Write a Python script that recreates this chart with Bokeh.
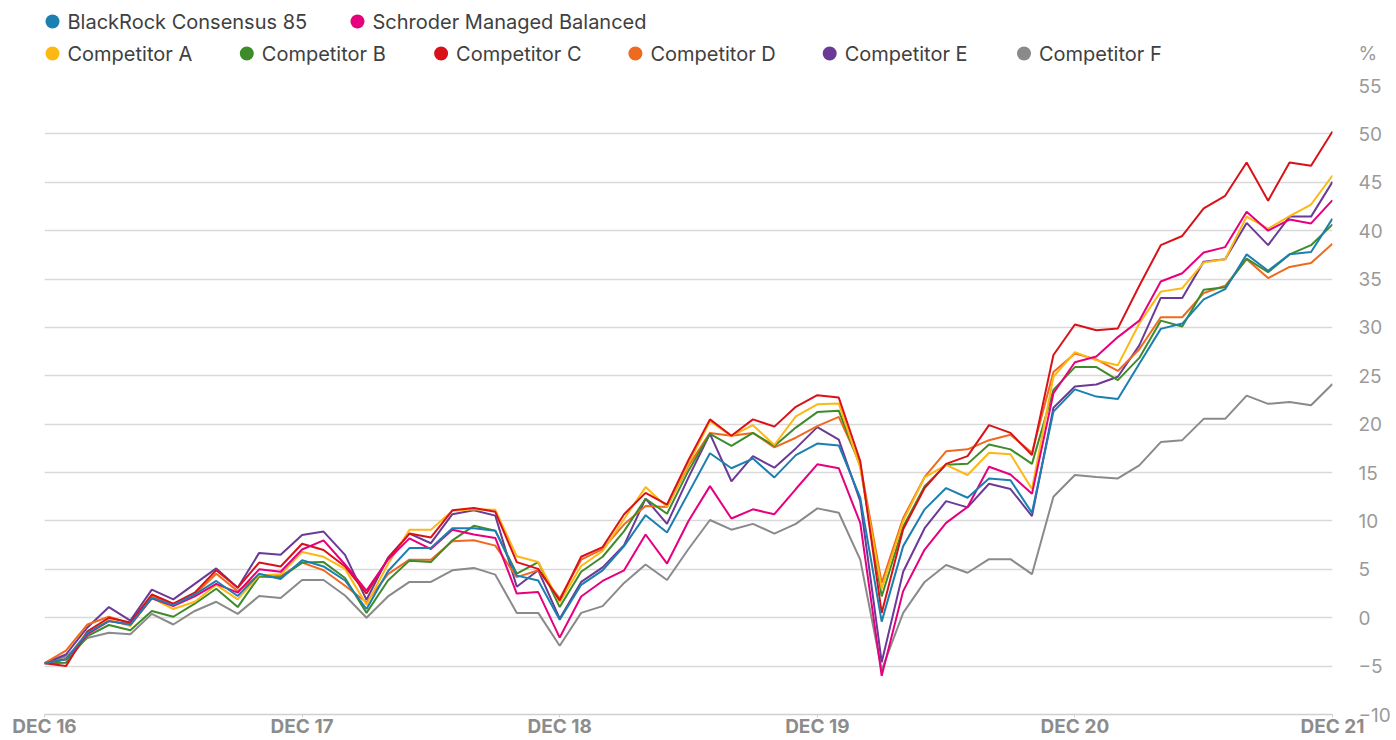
from bokeh.plotting import figure
from bokeh.layouts import column
from bokeh.models import Range1d, FixedTicker, ColumnDataSource
from bokeh.embed import file_html
from bokeh.resources import INLINE
from bokeh.core.properties import value

# ---------------- data ----------------
months = list(range(61))  # Dec 2016 .. Dec 2021, monthly
tick_months = [0, 12, 24, 36, 48, 60]
tick_labels = ["DEC 16", "DEC 17", "DEC 18", "DEC 19", "DEC 20", "DEC 21"]
y_ticks = list(range(-10, 56, 5))
unit_label = "%"

names = ["BlackRock Consensus 85", "Schroder Managed Balanced",
         "Competitor A", "Competitor B", "Competitor C",
         "Competitor D", "Competitor E", "Competitor F"]
colors = ["#1b7fb1", "#e6007e", "#fdb813", "#3e8b2a", "#d91219",
          "#ef6a1e", "#6b3a96", "#8a8a8a"]

blackrock = [-4.7, -4.3, -1.55, -0.35, -0.7, 2.05, 1.3, 2.4, 3.8, 2.25, 4.55, 4.0,
             5.95, 5.3, 3.85, 0.9, 4.8, 7.2, 7.2, 9.25, 9.25, 9.0, 4.35, 3.85,
             -0.2, 3.4, 4.9, 7.4, 10.6, 8.8, 12.9, 17.0, 15.45, 16.45, 14.5, 16.8,
             18.0, 17.8, 12.4, -0.4, 7.4, 11.2, 13.4, 12.4, 14.4, 14.2, 10.85, 21.3,
             23.6, 22.85, 22.6, 26.25, 29.85, 30.4, 32.9, 33.95, 37.55, 35.85, 37.55, 37.8,
             41.25]
schroder = [-4.7, -4.3, -1.7, -0.35, -0.7, 2.0, 1.2, 2.2, 3.5, 2.6, 5.0, 4.75,
            7.05, 8.0, 5.5, 2.8, 6.0, 8.2, 7.1, 9.1, 8.6, 8.25, 2.5, 2.65,
            -2.05, 2.2, 3.8, 4.9, 8.6, 5.6, 10.0, 13.6, 10.25, 11.2, 10.7, 13.3,
            15.85, 15.45, 9.8, -6.0, 2.75, 7.05, 9.8, 11.45, 15.6, 14.8, 12.8, 23.2,
            26.4, 27.0, 29.0, 30.7, 34.75, 35.6, 37.75, 38.3, 41.95, 40.0, 41.15, 40.75,
            43.15]
comp_a = [-4.7, -4.3, -1.4, -0.2, -0.85, 2.05, 0.9, 1.65, 3.4, 1.9, 4.4, 4.5,
          6.8, 6.3, 5.05, 1.35, 5.55, 9.1, 9.1, 11.05, 11.2, 11.15, 6.35, 5.75,
          1.6, 5.35, 6.9, 10.2, 13.5, 11.45, 15.9, 20.3, 18.8, 19.9, 17.85, 20.8,
          22.05, 22.15, 15.5, 3.0, 10.0, 14.5, 15.8, 14.75, 17.05, 16.9, 13.3, 24.9,
          27.45, 26.6, 26.1, 30.4, 33.7, 34.05, 36.7, 37.05, 41.45, 40.2, 41.5, 42.7,
          45.7]
comp_b = [-4.7, -4.65, -1.9, -0.75, -1.3, 0.7, 0.1, 1.45, 3.0, 1.1, 4.25, 4.15,
          5.7, 5.75, 4.1, 0.5, 3.85, 5.9, 5.75, 8.0, 9.5, 9.0, 4.55, 5.75,
          1.1, 4.75, 6.3, 8.95, 12.3, 10.75, 15.2, 19.0, 17.75, 19.1, 17.75, 19.65,
          21.25, 21.4, 15.7, 2.2, 9.4, 13.6, 15.8, 15.9, 17.9, 17.4, 15.9, 23.55,
          25.9, 25.9, 24.55, 26.85, 30.7, 30.1, 33.9, 34.15, 37.1, 35.7, 37.55, 38.5,
          40.65]
comp_c = [-4.7, -5.0, -1.4, 0.0, -0.5, 2.4, 1.45, 2.6, 4.9, 3.1, 5.7, 5.3,
          7.65, 7.0, 5.3, 2.5, 6.1, 8.7, 8.3, 11.1, 11.35, 10.95, 5.75, 5.05,
          1.8, 6.3, 7.3, 10.7, 12.9, 11.7, 16.3, 20.5, 18.8, 20.5, 19.75, 21.8,
          23.0, 22.75, 16.2, 0.5, 9.15, 13.4, 15.9, 16.7, 19.9, 19.1, 16.8, 27.15,
          30.3, 29.7, 29.9, 34.3, 38.5, 39.45, 42.3, 43.6, 47.05, 43.1, 47.05, 46.7,
          50.25]
comp_d = [-4.7, -3.4, -0.7, 0.1, -0.6, 2.2, 1.4, 2.4, 4.55, 2.75, 4.4, 4.3,
          5.7, 4.9, 3.3, 1.6, 4.5, 6.0, 6.0, 7.9, 8.0, 7.45, 4.2, 4.9,
          2.0, 6.0, 7.1, 9.65, 11.55, 11.45, 15.7, 19.1, 18.8, 19.1, 17.6, 18.6,
          19.8, 20.75, 15.9, 3.6, 10.3, 14.55, 17.2, 17.4, 18.35, 18.9, 17.05, 25.4,
          27.3, 26.7, 25.5, 27.75, 31.05, 31.05, 33.55, 34.3, 37.05, 35.1, 36.25, 36.65,
          38.65]
comp_e = [-4.7, -3.8, -1.0, 1.1, -0.3, 2.9, 1.9, 3.5, 5.1, 3.1, 6.7, 6.5,
          8.55, 8.9, 6.5, 1.85, 6.2, 8.7, 7.7, 10.7, 11.1, 10.55, 3.2, 4.9,
          -0.1, 3.7, 5.2, 7.5, 12.3, 9.7, 14.5, 19.0, 14.1, 16.7, 15.5, 17.5,
          19.7, 18.4, 12.05, -4.6, 4.75, 9.25, 12.05, 11.4, 13.85, 13.3, 10.5, 21.7,
          23.9, 24.1, 24.9, 28.15, 33.05, 33.05, 36.8, 37.05, 40.8, 38.5, 41.45, 41.45,
          45.05]
comp_f = [-4.7, -4.0, -2.1, -1.55, -1.7, 0.4, -0.7, 0.7, 1.65, 0.4, 2.25, 2.05,
          3.9, 3.9, 2.3, 0.0, 2.2, 3.7, 3.7, 4.9, 5.15, 4.45, 0.5, 0.5,
          -2.9, 0.5, 1.2, 3.6, 5.5, 3.9, 7.1, 10.1, 9.1, 9.7, 8.7, 9.7,
          11.3, 10.85, 6.0, -5.4, 0.5, 3.7, 5.45, 4.65, 6.05, 6.05, 4.5, 12.5,
          14.75, 14.55, 14.4, 15.75, 18.15, 18.35, 20.55, 20.55, 22.95, 22.1, 22.3, 21.95,
          24.15]

series = [blackrock, schroder, comp_a, comp_b, comp_c, comp_d, comp_e, comp_f]

# ---------------- layout ----------------
W = 1396
H = 740
FONT = "Inter"
LEFT, RIGHT = 44, 64          # frame spans 44 .. 1332
FRAME_W = W - LEFT - RIGHT
LEG_H = 66
FRAME_TOP = 85
GREY_TXT = "#9a9a9a"


def style_right_axis(ax):
    ax.axis_line_color = None
    ax.major_tick_line_color = None
    ax.minor_tick_line_color = None
    ax.major_label_standoff = 20
    ax.major_label_text_font = FONT
    ax.major_label_text_font_size = "19px"
    ax.major_label_text_color = GREY_TXT


# legend strip; its frame aligns with the chart frame (x = px from frame left)
leg = figure(width=W, height=LEG_H, x_range=Range1d(0, FRAME_W), y_range=Range1d(0, LEG_H),
             x_axis_type=None, y_axis_location="right", output_backend="svg",
             toolbar_location=None, min_border=0, min_border_left=LEFT,
             min_border_right=RIGHT, outline_line_color=None)
leg.grid.visible = False

row_y = [LEG_H - 21, LEG_H - 53]
rows = [[0, 1], [2, 3, 4, 5, 6, 7]]
pitches = [305.0, 194.3]
lx, ly, lc, ln = [], [], [], []
for r, idxs in enumerate(rows):
    for k, i in enumerate(idxs):
        lx.append(8 + k * pitches[r])
        ly.append(row_y[r])
        lc.append(colors[i])
        ln.append(names[i])
lsrc = ColumnDataSource(dict(x=lx, y=ly, c=lc, t=ln, tx=[v + 15 for v in lx]))
leg.scatter("x", "y", source=lsrc, size=14, color="c", line_color=None)
leg.text("tx", "y", text="t", source=lsrc, text_font=value(FONT), text_font_size="20px",
         text_color="#404040", text_baseline="middle", text_align="left")

# "%" unit shown as the only tick label of the legend strip's right axis
la = leg.yaxis[0]
la.ticker = FixedTicker(ticks=[row_y[1]])
la.major_label_overrides = {row_y[1]: unit_label}
style_right_axis(la)

# main chart
p = figure(width=W, height=H - LEG_H, x_range=Range1d(0, 60), y_range=Range1d(-10, 55),
           y_axis_location="right", output_backend="svg", toolbar_location=None,
           min_border_left=LEFT, min_border_right=RIGHT, min_border_top=FRAME_TOP - LEG_H,
           min_border_bottom=0, outline_line_color=None)

order = [7, 6, 5, 3, 2, 4, 1, 0]
for i in order:
    p.line(months, series[i], line_color=colors[i], line_width=2)

p.xgrid.visible = False
p.ygrid.ticker = FixedTicker(ticks=y_ticks)
p.ygrid.grid_line_color = "#d9d9d9"
p.ygrid.grid_line_width = 1.5

ya = p.yaxis[0]
ya.ticker = FixedTicker(ticks=y_ticks)
style_right_axis(ya)

xa = p.xaxis[0]
xa.ticker = FixedTicker(ticks=tick_months)
xa.major_label_overrides = {m: lab for m, lab in zip(tick_months, tick_labels)}
xa.axis_line_color = "#d0d0d0"
xa.axis_line_width = 1.5
xa.major_tick_line_color = "#d0d0d0"
xa.major_tick_in = 0
xa.major_tick_out = 3
xa.minor_tick_line_color = None
xa.major_label_standoff = -3
xa.major_label_text_line_height = 1.0
xa.major_label_text_font = FONT
xa.major_label_text_font_size = "19px"
xa.major_label_text_font_style = "bold"
xa.major_label_text_color = "#8c8c8c"

layout = column(leg, p, spacing=0)
open("out.html", "w").write(file_html(layout, INLINE))
